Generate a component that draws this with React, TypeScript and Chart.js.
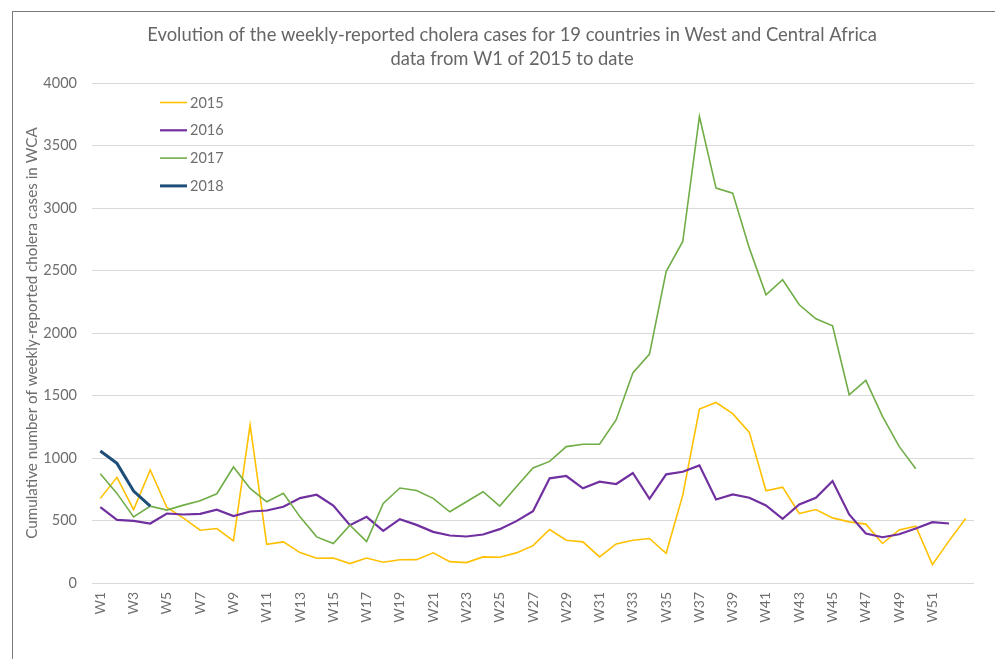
import React, { useEffect, useRef } from "react";
import { Chart, registerables } from "chart.js";

Chart.register(...registerables);

const weeks: string[] = [
  "W1","W2","W3","W4","W5","W6","W7","W8","W9","W10",
  "W11","W12","W13","W14","W15","W16","W17","W18","W19","W20",
  "W21","W22","W23","W24","W25","W26","W27","W28","W29","W30",
  "W31","W32","W33","W34","W35","W36","W37","W38","W39","W40",
  "W41","W42","W43","W44","W45","W46","W47","W48","W49","W50",
  "W51","W52","W53",
];

const cases2015: (number | null)[] = [
  677, 845, 588, 904, 604, 519, 422, 436, 337, 1265,
  310, 329, 243, 198, 200, 155, 200, 166, 186, 187,
  241, 171, 163, 209, 206, 241, 299, 428, 342, 329,
  209, 313, 342, 356, 238, 703, 1392, 1444, 1355, 1205,
  738, 767, 556, 588, 521, 489, 471, 316, 425, 455,
  147, 337, 516,
];

const cases2016: (number | null)[] = [
  607, 505, 497, 476, 556, 548, 553, 586, 535, 572,
  580, 610, 679, 706, 620, 463, 529, 417, 511, 465,
  409, 380, 372, 388, 431, 495, 575, 837, 856, 757,
  810, 792, 880, 674, 869, 890, 941, 668, 709, 682,
  620, 513, 628, 682, 816, 548, 396, 366, 390, 436,
  487, 476, null,
];

const cases2017: (number | null)[] = [
  874, 717, 529, 615, 583, 623, 658, 714, 928, 757,
  650, 717, 529, 369, 316, 463, 332, 636, 760, 740,
  677, 570, 650, 730, 615, 770, 920, 973, 1091, 1110,
  1110, 1306, 1680, 1831, 2492, 2732, 3732, 3159, 3119, 2679,
  2306, 2426, 2226, 2114, 2058, 1506, 1621, 1333, 1093, 914,
  null, null, null,
];

const cases2018: (number | null)[] = [
  1056, 957, 735, 615, null, null, null, null, null, null,
  null, null, null, null, null, null, null, null, null, null,
  null, null, null, null, null, null, null, null, null, null,
  null, null, null, null, null, null, null, null, null, null,
  null, null, null, null, null, null, null, null, null, null,
  null, null, null,
];

const seriesLabels = ["2015", "2016", "2017", "2018"];
const seriesColors = ["#FFC000", "#7030A0", "#70AD47", "#1F4E79"];
const seriesWidths = [1.6, 2.2, 1.6, 3];

const titleLines = [
  "Evolution of the weekly-reported cholera cases for 19 countries in West and Central Africa",
  "data from W1 of 2015 to date",
];
const yAxisTitle = "Cumulative number of weekly-reported cholera cases in WCA";

const FONT = "Lato, 'Open Sans', sans-serif";
const TEXT_COLOR = "#6e6e6e";

const decorPlugin = {
  id: "decor",
  afterDraw(chart: any) {
    const ctx = chart.ctx;
    const area = chart.chartArea;
    ctx.save();
    // title
    ctx.fillStyle = "#666666";
    ctx.font = `18.4px ${FONT}`;
    ctx.textAlign = "center";
    ctx.textBaseline = "middle";
    titleLines.forEach((t, i) => ctx.fillText(t, 512, 35 + i * 24));
    // y axis title
    ctx.save();
    ctx.translate(32, (area.top + area.bottom) / 2);
    ctx.rotate(-Math.PI / 2);
    ctx.font = `15.2px ${FONT}`;
    ctx.fillStyle = TEXT_COLOR;
    ctx.fillText(yAxisTitle, 0, 0);
    ctx.restore();
    // legend
    ctx.textAlign = "left";
    ctx.font = `14.5px ${FONT}`;
    chart.data.datasets.forEach((ds: any, i: number) => {
      const y = 102.5 + i * 27.8;
      ctx.strokeStyle = ds.borderColor;
      ctx.lineWidth = ds.borderWidth;
      ctx.beginPath();
      ctx.moveTo(160, y);
      ctx.lineTo(187, y);
      ctx.stroke();
      ctx.fillStyle = TEXT_COLOR;
      ctx.fillText(ds.label, 190, y + 0.5);
    });
    ctx.restore();
  },
};

export default function App() {
  const canvasRef = useRef<HTMLCanvasElement | null>(null);

  useEffect(() => {
    document.body.style.margin = "0";
    const canvas = canvasRef.current;
    if (!canvas) return;
    const seriesData = [cases2015, cases2016, cases2017, cases2018];
    const chart = new Chart(canvas, {
      type: "line",
      data: {
        labels: weeks,
        datasets: seriesLabels.map((label, i) => ({
          label,
          data: seriesData[i],
          borderColor: seriesColors[i],
          backgroundColor: seriesColors[i],
          borderWidth: seriesWidths[i],
          pointRadius: 0,
          tension: 0,
          fill: false,
          spanGaps: false,
          order: 4 - i,
        })),
      },
      options: {
        responsive: false,
        animation: false,
        layout: { padding: { top: 83, right: 21, left: 0, bottom: 0 } },
        plugins: {
          legend: { display: false },
          title: { display: false },
          tooltip: { enabled: false },
        },
        scales: {
          x: {
            type: "category",
            offset: true,
            grid: { display: false, drawTicks: false, offset: true },
            border: { display: false },
            ticks: {
              autoSkip: false,
              maxRotation: 90,
              minRotation: 90,
              padding: 9,
              color: TEXT_COLOR,
              font: { family: FONT, size: 14 },
              callback: (_v: any, idx: number) =>
                idx % 2 === 0 && idx < weeks.length - 1 ? weeks[idx] : "",
            },
            afterFit: (s: any) => {
              s.height = 76;
            },
          },
          y: {
            min: 0,
            max: 4000,
            grid: { color: "#d9d9d9", lineWidth: 1, drawTicks: false },
            border: { display: false },
            ticks: {
              stepSize: 500,
              padding: 15,
              color: TEXT_COLOR,
              font: { family: FONT, size: 14.5 },
              callback: (v: any) => String(v),
            },
            afterFit: (s: any) => {
              s.width = 92;
            },
          },
        },
      },
      plugins: [decorPlugin],
    });
    return () => chart.destroy();
  }, []);

  return (
    <div style={{ position: "relative", width: 995, height: 659, overflow: "hidden", background: "#fff" }}>
      <canvas ref={canvasRef} width={995} height={659} style={{ position: "absolute", left: 0, top: 0 }} />
      <div
        style={{
          position: "absolute",
          left: 12,
          top: 11,
          width: 1100,
          height: 800,
          borderTop: "1px solid #7a7a7a",
          borderLeft: "1px solid #7a7a7a",
          pointerEvents: "none",
        }}
      />
    </div>
  );
}
